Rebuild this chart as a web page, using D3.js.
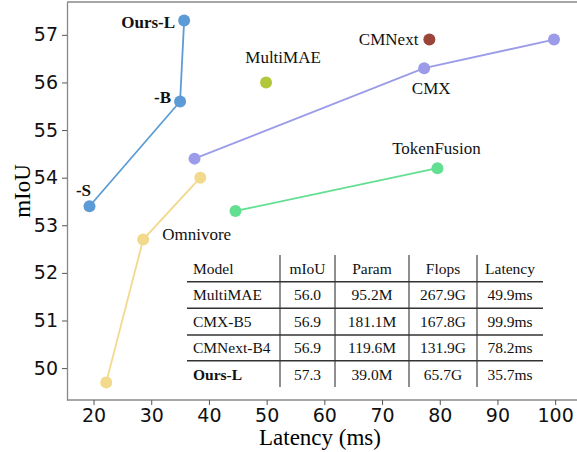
<!DOCTYPE html>
<html><head><meta charset="utf-8">
<script src="https://cdn.jsdelivr.net/npm/d3@7"></script>
<style>body{margin:0;background:#fff}svg{display:block}</style>
</head><body><svg id="c" width="577" height="452"></svg>
<script>
// ---- data ----
const oursLatency = [19.3, 35.0, 35.7];
const oursMiou    = [53.4, 55.6, 57.3];
const oursNames   = ["-S", "-B", "Ours-L"];
const cmxLatency  = [37.5, 77.3, 99.8];
const cmxMiou     = [54.4, 56.3, 56.9];
const omniLatency = [22.2, 28.6, 38.5];
const omniMiou    = [49.7, 52.7, 54.0];
const tfLatency   = [44.6, 79.6];
const tfMiou      = [53.3, 54.2];
const multimaeLatency = [49.9];
const multimaeMiou    = [56.0];
const cmnextLatency   = [78.2];
const cmnextMiou      = [56.9];
const xTicks = [20, 30, 40, 50, 60, 70, 80, 90, 100];
const yTicks = [50, 51, 52, 53, 54, 55, 56, 57];
const tableHeader = ["Model", "mIoU", "Param", "Flops", "Latency"];
const tableModels = ["MultiMAE", "CMX-B5", "CMNext-B4", "Ours-L"];
const tableMiou   = ["56.0", "56.9", "56.9", "57.3"];
const tableParam  = ["95.2M", "181.1M", "119.6M", "39.0M"];
const tableFlops  = ["267.9G", "167.8G", "131.9G", "65.7G"];
const tableLatency= ["49.9ms", "99.9ms", "78.2ms", "35.7ms"];

// ---- layout ----
const svg = d3.select("#c");
const x = d3.scaleLinear().domain([15.4, 104.6]).range([67, 581.7]);
const y = d3.scaleLinear().domain([49.33, 57.69]).range([400, 2]);
const serif = "'Liberation Serif','Times New Roman',serif";
const sans = "'DejaVu Sans',sans-serif";

// frame
svg.append("line").attr("x1",67).attr("x2",577).attr("y1",2).attr("y2",2).attr("stroke","#888").attr("stroke-width",1.3);
const gx = svg.append("g").attr("transform","translate(0,400)")
  .call(d3.axisBottom(x).tickValues(xTicks).tickSize(5).tickPadding(4).tickSizeOuter(0));
const gy = svg.append("g").attr("transform","translate(67,0)")
  .call(d3.axisLeft(y).tickValues(yTicks).tickSize(5).tickPadding(4).tickSizeOuter(0));
[gx, gy].forEach(g => {
  g.select(".domain").attr("stroke","#888").attr("stroke-width",1.3);
  g.selectAll(".tick line").attr("stroke","#555");
  g.selectAll(".tick text").attr("font-family",sans).attr("font-size",19).attr("fill","#111");
});
gx.select(".domain").attr("d","M67,0H577");

svg.append("text").attr("x",320).attr("y",445).attr("text-anchor","middle")
  .attr("font-family",serif).attr("font-size",23).text("Latency (ms)");
svg.append("text").attr("transform","translate(30,191) rotate(-90)").attr("text-anchor","middle")
  .attr("font-family",serif).attr("font-size",23).text("mIoU");

// series
function series(xs, ys, color, withLine) {
  const pts = xs.map((v,i)=>[v, ys[i]]);
  if (withLine) svg.append("path").datum(pts)
    .attr("d", d3.line().x(d=>x(d[0])).y(d=>y(d[1])))
    .attr("fill","none").attr("stroke",color).attr("stroke-width",1.8);
  svg.append("g").selectAll("circle").data(pts).join("circle")
    .attr("cx",d=>x(d[0])).attr("cy",d=>y(d[1])).attr("r",6).attr("fill",color);
}
series(omniLatency, omniMiou, "#f3d98c", true);
series(tfLatency, tfMiou, "#62df91", true);
series(cmxLatency, cmxMiou, "#9b9be9", true);
series(oursLatency, oursMiou, "#5d9bd6", true);
series(multimaeLatency, multimaeMiou, "#b3c73c", false);
series(cmnextLatency, cmnextMiou, "#9b4538", false);

function label(lx, ly, txt, dx, dy, anchor, bold) {
  svg.append("text").attr("x", x(lx)+dx).attr("y", y(ly)+dy).attr("text-anchor",anchor)
    .attr("font-family",serif).attr("font-size",17).attr("font-weight",bold?"bold":"normal")
    .attr("fill","#111").text(txt);
}
label(oursLatency[2], oursMiou[2], oursNames[2], -9, 7, "end", true);
label(oursLatency[1], oursMiou[1], oursNames[1], -9, 1, "end", true);
label(oursLatency[0], oursMiou[0], oursNames[0], -6, -10, "middle", true);
label(multimaeLatency[0], multimaeMiou[0], "MultiMAE", 17, -19, "middle", false);
label(cmnextLatency[0], cmnextMiou[0], "CMNext", -11, 5, "end", false);
label(cmxLatency[1], cmxMiou[1], "CMX", 7, 26, "middle", false);
label(tfLatency[1], tfMiou[1], "TokenFusion", -1, -14, "middle", false);
label(omniLatency[1], omniMiou[1], "Omnivore", 19, 0, "start", false);

// table
const colEdges = [187, 280, 335, 409, 477, 543];
const rowCenters = [269, 295, 321.5, 348, 374.5];
const hLines = [281.7, 308.3, 335, 360.7];
const tg = svg.append("g");
hLines.forEach(h => tg.append("line").attr("x1",colEdges[0]).attr("x2",colEdges[5])
  .attr("y1",h).attr("y2",h).attr("stroke","#333").attr("stroke-width",1.4));
colEdges.slice(1,5).forEach(c => tg.append("line").attr("x1",c).attr("x2",c)
  .attr("y1",255).attr("y2",387).attr("stroke","#333").attr("stroke-width",1.1));
const rows = [tableHeader].concat(tableModels.map((m,i)=>[m, tableMiou[i], tableParam[i], tableFlops[i], tableLatency[i]]));
rows.forEach((r, ri) => r.forEach((cell, ci) => {
  const left = ci === 0;
  tg.append("text")
    .attr("x", left ? colEdges[0]+6 : (colEdges[ci]+colEdges[ci+1])/2)
    .attr("y", rowCenters[ri] + 5)
    .attr("text-anchor", left ? "start" : "middle")
    .attr("font-family", serif).attr("font-size", 15.5).attr("fill","#111")
    .attr("font-weight", (ri === 4 && ci === 0) ? "bold" : "normal")
    .text(cell);
}));
</script></body></html>
